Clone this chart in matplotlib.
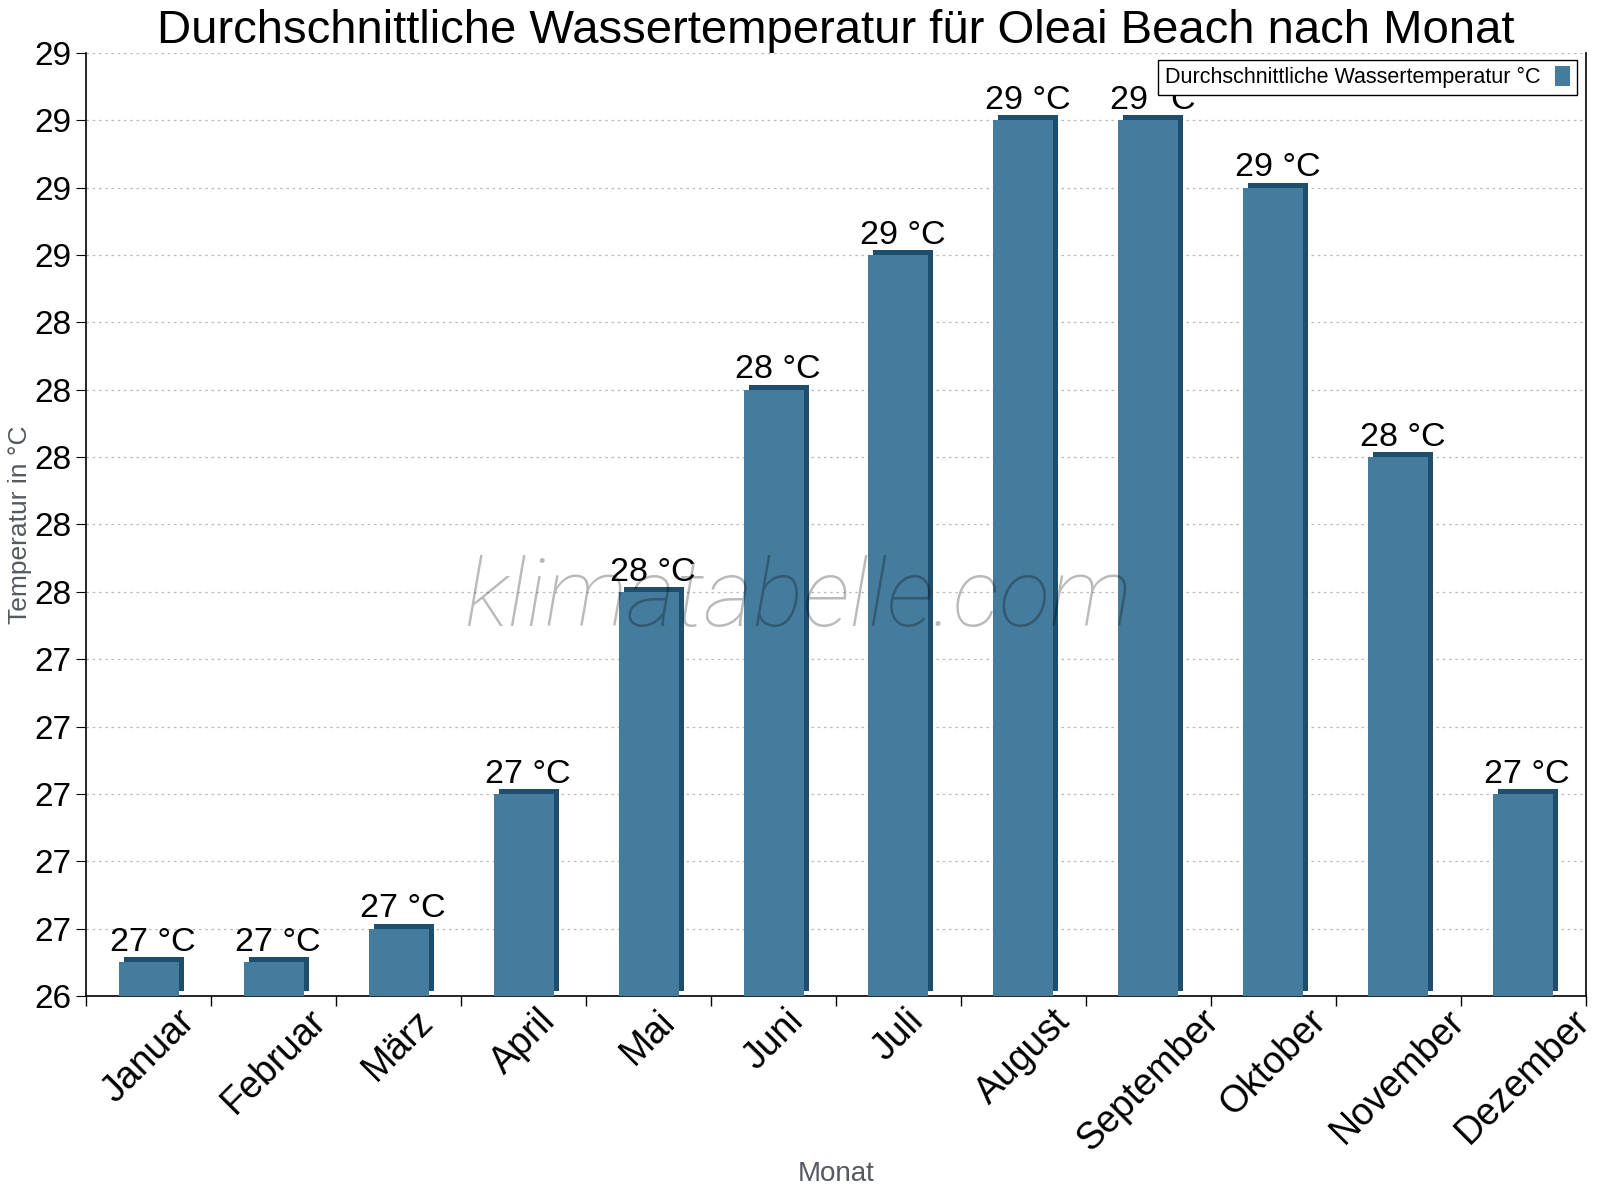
import math
import matplotlib
matplotlib.use("Agg")
import matplotlib.pyplot as plt
import matplotlib.transforms as mtransforms
from matplotlib.ticker import MultipleLocator, FuncFormatter

months = ["Januar", "Februar", "März", "April", "Mai", "Juni", "Juli",
          "August", "September", "Oktober", "November", "Dezember"]
water_temp = [26.5, 26.5, 26.6, 27.0, 27.6, 28.2, 28.6, 29.0, 29.0, 28.8, 28.0, 27.0]

plt.rcParams['font.family'] = ['Liberation Sans', 'DejaVu Sans']

face = "#457b9d"
shade = "#1d4e6e"


def rnd(v):
    return int(math.floor(v + 0.5))


fig = plt.figure(figsize=(16, 12), dpi=100)
ax = fig.add_axes([0.054, 0.17, 0.937, 0.786])

x = list(range(len(months)))
ymin, ymax = 26.4, 29.2

# darker copy shifted up/right gives the 3d edge
shift = mtransforms.ScaledTranslation(5 / 100, 5 / 100, fig.dpi_scale_trans)
ax.bar(x, [v - ymin for v in water_temp], bottom=ymin, width=0.48,
       color=shade, transform=ax.transData + shift, zorder=2)
bars = ax.bar(x, [v - ymin for v in water_temp], bottom=ymin, width=0.48,
              color=face, zorder=3, label="Durchschnittliche Wassertemperatur °C")

for xi, v in zip(x, water_temp):
    ax.annotate(f"{rnd(v)} °C", (xi, v), xytext=(3, 3), textcoords="offset points",
                ha="center", va="bottom", fontsize=24.5, zorder=5)

ax.set_xlim(-0.5, len(months) - 0.5)
ax.set_ylim(ymin, ymax)
ax.yaxis.set_major_locator(MultipleLocator(0.2))
ax.yaxis.set_major_formatter(FuncFormatter(lambda v, p: f"{rnd(v)}"))
ax.grid(axis="y", linestyle=(0, (2, 3)), color="#bbbbbb", linewidth=0.9, zorder=0)

ax.set_xticks(x)
ax.set_xticklabels(months, rotation=45, ha="center", fontsize=27)
ax.set_xticks([i - 0.5 for i in range(len(months) + 1)], minor=True)
ax.tick_params(axis="x", which="major", length=0, pad=5)
ax.tick_params(axis="x", which="minor", length=7, width=1)
ax.tick_params(axis="y", labelsize=24, length=7)

ax.spines["top"].set_visible(False)
for s in ("left", "bottom", "right"):
    ax.spines[s].set_linewidth(1.2)

ax.set_ylabel("Temperatur in °C", fontsize=19, color="#555a60", labelpad=2)
ax.set_xlabel("Monat", fontsize=20, color="#555a60", labelpad=2)
ax.set_title("Durchschnittliche Wassertemperatur für Oleai Beach nach Monat",
             fontsize=34, pad=0)

leg = ax.legend(loc="upper right", bbox_to_anchor=(0.997, 0.997), fontsize=15.5,
                markerfirst=False, fancybox=False, edgecolor="black", framealpha=1,
                handlelength=0.7, handleheight=1.0, borderpad=0.3,
                borderaxespad=0.2, handletextpad=0.7)
leg.set_zorder(7)

ax.text(0.475, 0.42, "klimatabelle.com", transform=ax.transAxes, ha="center",
        va="center", fontsize=68, family="Roboto", fontweight="light",
        style="italic", color="black", alpha=0.27, zorder=6)

fig.savefig("out.png", dpi=100)
